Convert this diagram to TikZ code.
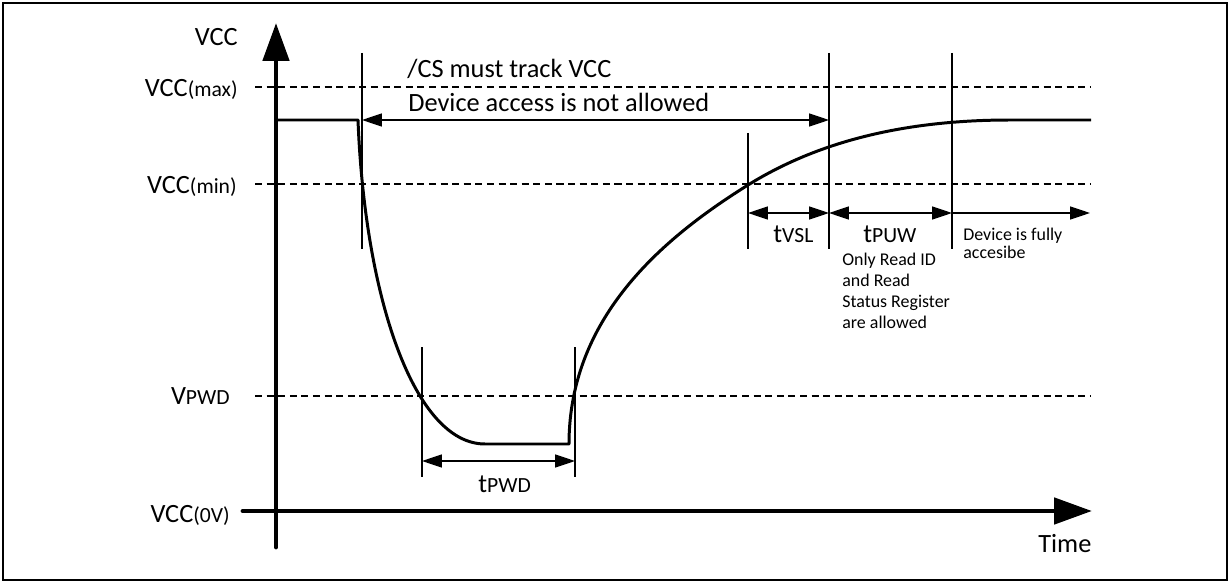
\documentclass[tikz,border=0pt]{standalone}
\usepackage{fontspec}
\setmainfont{Carlito}
\usetikzlibrary{arrows.meta}
\newcommand{\sbs}[1]{{\fontsize{12.3}{14}\selectfont #1}}
\begin{document}
\begin{tikzpicture}[x=0.02cm,y=-0.02cm,
  big/.style={inner sep=0pt,font=\fontsize{15}{18}\selectfont},
  small/.style={inner sep=0pt,anchor=base west,font=\fontsize{10.2}{12}\selectfont},
  axisline/.style={line width=2.8pt,line cap=round,-{Triangle[length=21.5pt,width=14.7pt]}},
  wave/.style={line width=1.7pt,line join=round},
  thin/.style={line width=0.7pt},
  dim/.style={line width=0.7pt,{Triangle[length=11.3pt,width=7.4pt]}-{Triangle[length=11.3pt,width=7.4pt]}},
  dimr/.style={line width=0.7pt,-{Triangle[length=11.3pt,width=7.4pt]}},
  level/.style={line width=0.6pt,dash pattern=on 4pt off 2.6pt}]
\useasboundingbox (0,0) rectangle (1228,581);
\draw[line width=1.1pt] (3,3) rectangle (1227,580);
% coordinates
\coordinate (ya) at (276,547); \coordinate (yb) at (276,23);
\coordinate (xa) at (243,511); \coordinate (xb) at (1092,511);
\coordinate (m1) at (255,87);  \coordinate (m2) at (1090,87);
\coordinate (n1) at (255,184); \coordinate (n2) at (1090,184);
\coordinate (p1) at (255,396); \coordinate (p2) at (1090,396);
% dashed levels
\draw[level] (m1) -- (m2);
\draw[level] (n1) -- (n2);
\draw[level] (p1) -- (p2);
% axes
\draw[axisline] (ya) -- (yb);
\draw[axisline] (xa) -- (xb);
% waveform
\coordinate (w0) at (276,120); \coordinate (w1) at (358,120);
\coordinate (w2) at (485,444); \coordinate (w3) at (569,444);
\coordinate (w4) at (748,185); \coordinate (w5) at (1010,120);
\coordinate (w6) at (1091,120);
\draw[wave] (w0) -- (w1) .. controls (365,300) and (415,444) .. (w2) -- (w3)
  .. controls (569,314) and (668,235) .. (w4)
  .. controls (808,147.8) and (890,120) .. (w5) -- (w6);
% vertical markers
\coordinate (v1a) at (362,53);  \coordinate (v1b) at (362,249);
\coordinate (v2a) at (748,133); \coordinate (v2b) at (748,249);
\coordinate (v3a) at (829,53);  \coordinate (v3b) at (829,249);
\coordinate (v4a) at (952,53);  \coordinate (v4b) at (952,249);
\coordinate (v5a) at (422,347); \coordinate (v5b) at (422,477);
\coordinate (v6a) at (575,347); \coordinate (v6b) at (575,477);
\foreach \a/\b in {v1a/v1b,v2a/v2b,v3a/v3b,v4a/v4b,v5a/v5b,v6a/v6b} \draw[thin] (\a) -- (\b);
% dimension arrows
\coordinate (d1a) at (362,120); \coordinate (d1b) at (829,120);
\coordinate (d2a) at (748,213); \coordinate (d2b) at (829,213);
\coordinate (d3b) at (952,213); \coordinate (d4b) at (1090,213);
\coordinate (d5a) at (422,461); \coordinate (d5b) at (575,461);
\draw[dim] (d1a) -- (d1b);
\draw[dim] (d2a) -- (d2b);
\draw[dim] (d2b) -- (d3b);
\draw[dimr] (d3b) -- (d4b);
\draw[dim] (d5a) -- (d5b);
% labels
\node[big,anchor=base east] (lvcc) at (238,46) {VCC};
\node[big,anchor=base east] (lmax) at (238,97) {VCC\sbs{(max)}};
\node[big,anchor=base east] (lmin) at (237,194) {VCC\sbs{(min)}};
\node[big,anchor=base east] (lpwd) at (230,404) {V\sbs{PWD}};
\node[big,anchor=base east] (l0v) at (230,522) {VCC\sbs{(0V)}};
\node[big,anchor=base west] (ltime) at (1038,552) {Time};
\node[big,anchor=base west] (lcs) at (407,78) {/CS must track VCC};
\node[big,anchor=base west] (lacc) at (408,112) {Device access is not allowed};
\node[big,anchor=base west] (lvsl) at (773,242) {t\sbs{VSL}};
\node[big,anchor=base west] (lpuw) at (863,242) {t\sbs{PUW}};
\node[big,anchor=base west] (ltpwd) at (478,492) {t\sbs{PWD}};
\node[small] (o1) at (842,265) {Only Read ID};
\node[small] (o2) at (842,286) {and Read};
\node[small] (o3) at (842,307) {Status Register};
\node[small] (o4) at (842,328) {are allowed};
\node[small] (f1) at (963,240) {Device is fully};
\node[small] (f2) at (963,258) {accesibe};
\end{tikzpicture}
\end{document}
